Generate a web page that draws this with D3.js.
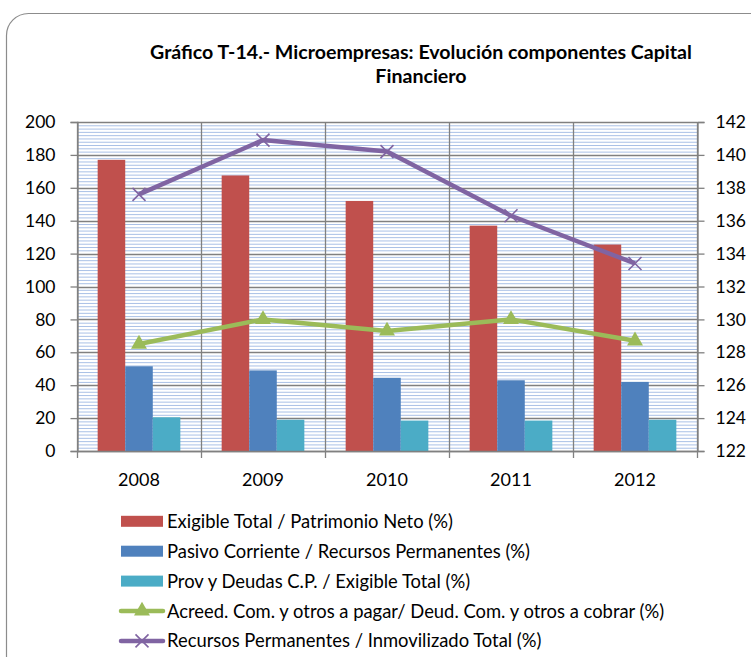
<!DOCTYPE html>
<html>
<head>
<meta charset="utf-8">
<script src="https://cdn.jsdelivr.net/npm/d3@7"></script>
<style>
  body { margin: 0; background: #fff; }
  svg { display: block; font-family: Lato, "Open Sans", sans-serif; }
</style>
</head>
<body>
<svg id="chart" width="751" height="657"></svg>
<script>
  'use strict';

  var years = ['2008', '2009', '2010', '2011', '2012'];

  var exigiblePatrimonio = [177, 167.5, 152, 137, 125.5];
  var pasivoRecursos = [51.5, 49, 44.5, 43, 42];
  var provExigible = [20.5, 19, 18.5, 18.5, 19];

  var acreedDeud = [128.5, 130, 129.3, 130, 128.7];
  var recursosInmov = [137.6, 140.9, 140.2, 136.3, 133.4];

  var leftTicks = [0, 20, 40, 60, 80, 100, 120, 140, 160, 180, 200];
  var rightTicks = [122, 124, 126, 128, 130, 132, 134, 136, 138, 140, 142];

  var barSeries = [
    { name: 'Exigible Total / Patrimonio Neto (%)', values: exigiblePatrimonio, color: '#C0504D' },
    { name: 'Pasivo Corriente / Recursos Permanentes (%)', values: pasivoRecursos, color: '#4F81BD' },
    { name: 'Prov y Deudas C.P. / Exigible Total (%)', values: provExigible, color: '#4BACC6' }
  ];
  var lineSeries = [
    { name: 'Acreed. Com. y otros a pagar/ Deud. Com. y otros a cobrar (%)', values: acreedDeud, color: '#9BBB59', marker: 'triangle' },
    { name: 'Recursos Permanentes / Inmovilizado Total (%)', values: recursosInmov, color: '#8064A2', marker: 'x' }
  ];

  var svg = d3.select('#chart');
  var margin = { left: 77, right: 697, top: 122, bottom: 451 };

  // chart frame
  svg.append('rect')
    .attr('x', 6.5).attr('y', 13.5)
    .attr('width', 770).attr('height', 680)
    .attr('rx', 22).attr('ry', 22)
    .attr('fill', '#fff')
    .attr('stroke', '#8c8c8c')
    .attr('stroke-width', 1.2);

  var title = svg.append('text')
    .attr('text-anchor', 'middle')
    .attr('font-weight', 'bold')
    .attr('font-size', 19.6)
    .attr('fill', '#000');
  title.append('tspan').attr('x', 421).attr('y', 59).text('Gráfico T-14.- Microempresas: Evolución componentes Capital');
  title.append('tspan').attr('x', 421).attr('y', 83).text('Financiero');

  var x = d3.scaleBand().domain(years).range([margin.left, margin.right]);
  var yLeft = d3.scaleLinear().domain([0, 200]).range([margin.bottom, margin.top]);
  var yRight = d3.scaleLinear().domain([122, 142]).range([margin.bottom, margin.top]);

  // minor gridlines every 2 units
  var grid = svg.append('g');
  grid.selectAll('line.minor')
    .data(d3.range(0, 201, 2).filter(function (v) { return v % 20 !== 0; }))
    .enter().append('line')
    .attr('class', 'minor')
    .attr('x1', margin.left).attr('x2', margin.right)
    .attr('y1', function (d) { return yLeft(d) + 0.5; })
    .attr('y2', function (d) { return yLeft(d) + 0.5; })
    .attr('stroke', '#A9C0E6')
    .attr('stroke-width', 1);

  grid.selectAll('line.major')
    .data(leftTicks)
    .enter().append('line')
    .attr('class', 'major')
    .attr('x1', margin.left).attr('x2', margin.right)
    .attr('y1', function (d) { return Math.round(yLeft(d)) + 0.5; })
    .attr('y2', function (d) { return Math.round(yLeft(d)) + 0.5; })
    .attr('stroke', '#808080')
    .attr('stroke-width', 1.3);

  // vertical gridlines at category boundaries
  var bounds = years.map(function (d) { return x(d); }).concat([margin.right]);
  grid.selectAll('line.vert')
    .data(bounds)
    .enter().append('line')
    .attr('class', 'vert')
    .attr('x1', function (d) { return Math.round(d) + 0.5; })
    .attr('x2', function (d) { return Math.round(d) + 0.5; })
    .attr('y1', margin.top).attr('y2', margin.bottom + 7)
    .attr('stroke', '#808080')
    .attr('stroke-width', 1.3);

  // bars, gap width 150%
  var groupW = x.bandwidth() * 3 / 4.5;
  var xInner = d3.scaleBand().domain([0, 1, 2]).range([0, groupW]);
  var barG = svg.append('g');
  barSeries.forEach(function (s, si) {
    barG.selectAll(null)
      .data(s.values)
      .enter().append('rect')
      .attr('x', function (d, i) { return x(years[i]) + (x.bandwidth() - groupW) / 2 + xInner(si); })
      .attr('y', function (d) { return yLeft(d); })
      .attr('width', xInner.bandwidth())
      .attr('height', function (d) { return yLeft(0) - yLeft(d); })
      .attr('fill', s.color);
  });

  // axes
  var axisLeft = d3.axisLeft(yLeft).tickValues(leftTicks).tickSize(7).tickPadding(15);
  var axisRight = d3.axisRight(yRight).tickValues(rightTicks).tickSize(7).tickPadding(11);

  function styleAxis(g) {
    g.select('.domain').attr('stroke', '#808080').attr('stroke-width', 1.3);
    g.selectAll('.tick line').attr('stroke', '#808080').attr('stroke-width', 1.3);
    g.selectAll('.tick text').attr('font-size', 17.5).attr('fill', '#000').attr('font-family', 'Lato, sans-serif');
  }

  svg.append('g').attr('transform', 'translate(' + (margin.left + 0.5) + ',0)').call(axisLeft).call(styleAxis);
  svg.append('g').attr('transform', 'translate(' + (margin.right + 0.5) + ',0)').call(axisRight).call(styleAxis);

  var xAxis = svg.append('g').attr('transform', 'translate(0,' + (margin.bottom + 0.5) + ')');
  xAxis.append('line')
    .attr('x1', margin.left).attr('x2', margin.right)
    .attr('stroke', '#808080').attr('stroke-width', 1.3);
  xAxis.selectAll('text')
    .data(years)
    .enter().append('text')
    .attr('x', function (d) { return x(d) + x.bandwidth() / 2; })
    .attr('y', 34)
    .attr('text-anchor', 'middle')
    .attr('font-size', 18)
    .text(function (d) { return d; });

  // lines on the right axis
  var line = d3.line()
    .x(function (d, i) { return x(years[i]) + x.bandwidth() / 2; })
    .y(function (d) { return yRight(d); });

  function drawMarker(g, type, color, cx, cy) {
    if (type === 'triangle') {
      var sym = d3.symbol().type(d3.symbolTriangle).size(110);
      g.append('path')
        .attr('d', sym())
        .attr('transform', 'translate(' + cx + ',' + cy + ')')
        .attr('fill', color);
    } else {
      var r = 6.5;
      g.append('path')
        .attr('d', 'M' + (cx - r) + ',' + (cy - r) + 'L' + (cx + r) + ',' + (cy + r) +
          'M' + (cx - r) + ',' + (cy + r) + 'L' + (cx + r) + ',' + (cy - r))
        .attr('stroke', color)
        .attr('stroke-width', 1.6)
        .attr('fill', 'none');
    }
  }

  lineSeries.forEach(function (s) {
    var g = svg.append('g');
    g.append('path')
      .datum(s.values)
      .attr('d', line)
      .attr('fill', 'none')
      .attr('stroke', s.color)
      .attr('stroke-width', 4.5)
      .attr('stroke-linejoin', 'round');
    s.values.forEach(function (v, i) {
      drawMarker(g, s.marker, s.color, x(years[i]) + x.bandwidth() / 2, yRight(v));
    });
  });

  // legend
  var legend = svg.append('g');
  var legendItems = barSeries.concat(lineSeries);
  legendItems.forEach(function (s, i) {
    var ly = 521.3 + i * 29.9;
    var item = legend.append('g');
    if (s.marker) {
      item.append('line')
        .attr('x1', 121).attr('x2', 163)
        .attr('y1', ly).attr('y2', ly)
        .attr('stroke', s.color).attr('stroke-width', 4.5)
        .attr('stroke-linecap', 'round');
      drawMarker(item, s.marker, s.color, 142, ly);
    } else {
      item.append('rect')
        .attr('x', 121).attr('y', ly - 5.5)
        .attr('width', 42).attr('height', 11)
        .attr('fill', s.color);
    }
    item.append('text')
      .attr('x', 167).attr('y', ly + 6.5)
      .attr('font-size', 18.4)
      .text(s.name);
  });
</script>
</body>
</html>
